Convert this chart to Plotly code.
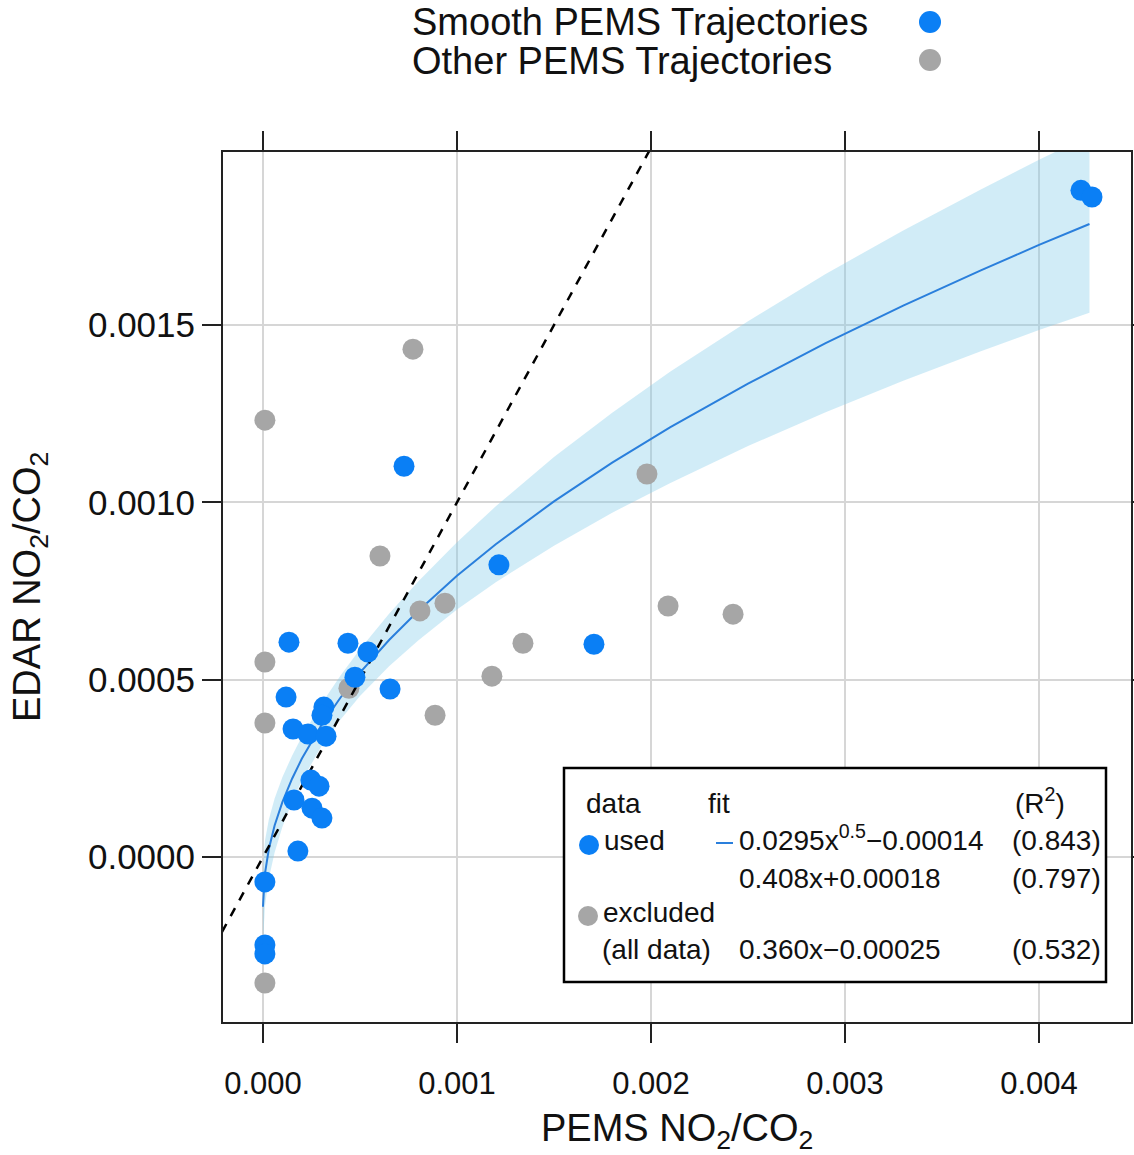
import plotly.graph_objects as go

# ---------------- data ----------------
smooth_x = [0.004216, 0.004273, 0.000727, 0.001216, 0.001706, 0.000134, 0.000438, 0.000541,
            0.000474, 0.000119, 0.000655, 0.000314, 0.000304, 0.000155, 0.000232, 0.000325,
            0.000247, 0.000289, 0.000160, 0.000253, 0.000304, 0.000180, 0.000010, 0.000010, 0.000010]
smooth_y = [0.001880, 0.001861, 0.001102, 0.000824, 0.000600, 0.000606, 0.000603, 0.000578,
            0.000507, 0.000451, 0.000474, 0.000423, 0.000400, 0.000361, 0.000347, 0.000341,
            0.000217, 0.000200, 0.000161, 0.000138, 0.000110, 0.000017, -0.000070, -0.000248, -0.000273]

other_x = [0.000010, 0.000773, 0.000603, 0.001979, 0.000938, 0.000809, 0.002088, 0.001340,
           0.002423, 0.001180, 0.000887, 0.000443, 0.000010, 0.000010, 0.000010]
other_y = [0.001232, 0.001432, 0.000849, 0.001080, 0.000716, 0.000694, 0.000708, 0.000603,
           0.000685, 0.000510, 0.000400, 0.000476, 0.000550, 0.000378, -0.000355]

# fitted curve 0.0295*x^0.5 - 0.00014 and its confidence band
fit_x = [0, 1e-5, 3e-5, 6e-5, 1e-4, 1.5e-4, 2e-4, 3e-4, 4e-4, 5e-4, 6.5e-4, 8e-4, 1e-3, 1.2e-3,
         1.5e-3, 1.8e-3, 2.1e-3, 2.5e-3, 2.9e-3, 3.3e-3, 3.7e-3, 4.0e-3, 4.26e-3]
fit_y = [-0.000140, -0.000047, 0.000022, 0.000089, 0.000155, 0.000221, 0.000277, 0.000371,
         0.000450, 0.000520, 0.000612, 0.000694, 0.000793, 0.000882, 0.001003, 0.001112,
         0.001212, 0.001335, 0.001449, 0.001555, 0.001654, 0.001726, 0.001785]
band_upper = [-0.000036, 0.000045, 0.000105, 0.000165, 0.000225, 0.000286, 0.000339, 0.000431,
              0.000512, 0.000586, 0.000686, 0.000777, 0.000888, 0.000989, 0.001128, 0.001253,
              0.001369, 0.001511, 0.001644, 0.001767, 0.001882, 0.001966, 0.002035]
band_lower = [-0.000244, -0.000139, -0.000061, 0.000013, 0.000085, 0.000156, 0.000215, 0.000311,
              0.000388, 0.000454, 0.000538, 0.000611, 0.000698, 0.000775, 0.000878, 0.000971,
              0.001055, 0.001159, 0.001254, 0.001343, 0.001426, 0.001486, 0.001535]

one_to_one = [-0.0003, 0.0021]

x_ticks = [0, 0.001, 0.002, 0.003, 0.004]
x_ticktext = ["0.000", "0.001", "0.002", "0.003", "0.004"]
y_ticks = [0, 0.0005, 0.0010, 0.0015]
y_ticktext = ["0.0000", "0.0005", "0.0010", "0.0015"]

legend_top = ["Smooth PEMS Trajectories", "Other PEMS Trajectories"]

# ---------------- styling ----------------
BLUE = "#0a7ff5"
GRAY = "#a6a6a6"
LINE_BLUE = "#2a7fdc"
BAND = "rgba(135,206,235,0.38)"
FONT = "Liberation Sans, Arial, sans-serif"
TXT = "#111111"

W, H = 1134, 1155
L, R, T, B = 223, 1131, 152, 1022  # plot area in pixels


def px(x):
    return (x - L) / (R - L)


def py(y):
    return (B - y) / (B - T)


fig = go.Figure()
fig.add_trace(go.Scatter(x=fit_x, y=band_lower, mode="lines", line=dict(width=0),
                         hoverinfo="skip", showlegend=False))
fig.add_trace(go.Scatter(x=fit_x, y=band_upper, mode="lines", line=dict(width=0),
                         fill="tonexty", fillcolor=BAND, hoverinfo="skip", showlegend=False))
fig.add_trace(go.Scatter(x=fit_x, y=fit_y, mode="lines", line=dict(color=LINE_BLUE, width=2),
                         showlegend=False))
fig.add_trace(go.Scatter(x=other_x, y=other_y, mode="markers",
                         marker=dict(color=GRAY, size=21, line=dict(width=0)), showlegend=False))
fig.add_trace(go.Scatter(x=one_to_one, y=one_to_one, mode="lines",
                         line=dict(color="black", width=2.5, dash="dash"), showlegend=False))
fig.add_trace(go.Scatter(x=smooth_x, y=smooth_y, mode="markers",
                         marker=dict(color=BLUE, size=21, line=dict(width=0)), showlegend=False))

axis_common = dict(showgrid=True, gridcolor="#d6d6d6", gridwidth=2, zeroline=False,
                   showline=True, linecolor="#222222", linewidth=2, mirror="ticks",
                   ticks="outside", ticklen=19, tickwidth=2, tickcolor="#222222",
                   automargin=False)

fig.update_layout(
    width=W, height=H, autosize=False,
    margin=dict(l=L, r=W - R, t=T, b=H - B),
    paper_bgcolor="white", plot_bgcolor="white",
    showlegend=False,
    xaxis=dict(range=[-0.000206, 0.004474], tickvals=x_ticks, ticktext=x_ticktext,
               tickfont=dict(family=FONT, size=31, color=TXT), ticklabelstandoff=14,
               **axis_common),
    yaxis=dict(range=[-0.000465, 0.001988], tickvals=y_ticks, ticktext=y_ticktext,
               tickfont=dict(family=FONT, size=35, color=TXT), **axis_common),
)

shapes = []
# inner legend box
shapes.append(dict(type="rect", xref="paper", yref="paper", x0=px(564), x1=px(1106),
                   y0=py(982), y1=py(768), line=dict(color="black", width=2.5),
                   fillcolor="white", layer="above"))


def dot(xp, yp, color, d):
    r = d / 2
    return dict(type="circle", xref="paper", yref="paper", xsizemode="pixel", ysizemode="pixel",
                xanchor=px(xp), yanchor=py(yp), x0=-r, x1=r, y0=-r, y1=r,
                fillcolor=color, line=dict(width=0), layer="above")


shapes.append(dot(930, 22, BLUE, 22))
shapes.append(dot(930, 60, GRAY, 22))
shapes.append(dot(589, 845, BLUE, 20))
shapes.append(dot(588, 916, GRAY, 20))
shapes.append(dict(type="line", xref="paper", yref="paper", x0=px(716), x1=px(733),
                   y0=py(843), y1=py(843), line=dict(color=LINE_BLUE, width=2), layer="above"))
fig.update_layout(shapes=shapes)

ann = []


def text(t, xp, yp, size, anchor="left"):
    ann.append(dict(text=t, xref="paper", yref="paper", x=px(xp), y=py(yp), xanchor=anchor,
                    yanchor="middle", showarrow=False,
                    font=dict(family=FONT, size=size, color=TXT)))


text(legend_top[0], 410, 22, 38)
text(legend_top[1], 410, 61, 38)

text("data", 584, 803, 28)
text("fit", 706, 803, 28)
text("(R<sup>2</sup>)", 1013, 801, 28)
text("used", 602, 840, 28)
text("0.0295x<sup>0.5</sup>\u22120.00014", 737, 838, 28)
text("(0.843)", 1103, 840, 28, "right")
text("0.408x+0.00018", 737, 878, 28)
text("(0.797)", 1103, 878, 28, "right")
text("excluded", 601, 912, 28)
text("(all data)", 600, 949, 28)
text("0.360x\u22120.00025", 737, 949, 28)
text("(0.532)", 1103, 949, 28, "right")

# axis titles
ann.append(dict(text="PEMS NO<sub>2</sub>/CO<sub>2</sub>", xref="paper", yref="paper",
                x=0.5, y=py(1131), xanchor="center", yanchor="middle", showarrow=False,
                font=dict(family=FONT, size=38, color=TXT)))
ann.append(dict(text="EDAR NO<sub>2</sub>/CO<sub>2</sub>", xref="paper", yref="paper",
                x=px(30), y=0.5, xanchor="center", yanchor="middle", showarrow=False,
                textangle=-90, font=dict(family=FONT, size=38, color=TXT)))
fig.update_layout(annotations=ann)

fig.write_html("out.html")
